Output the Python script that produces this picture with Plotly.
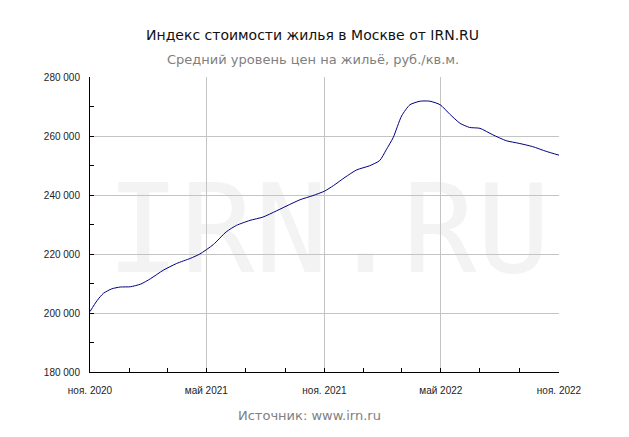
import plotly.graph_objects as go

dates = ["2020-11-01", "2020-11-12", "2020-11-22", "2020-12-05", "2020-12-18",
         "2021-01-03", "2021-01-19", "2021-02-03", "2021-02-23", "2021-03-16",
         "2021-04-06", "2021-04-21", "2021-05-12", "2021-06-01", "2021-06-17",
         "2021-07-08", "2021-07-28", "2021-08-18", "2021-09-08", "2021-09-24",
         "2021-10-14", "2021-11-01", "2021-11-15", "2021-12-03", "2021-12-21",
         "2022-01-10", "2022-01-26", "2022-02-05", "2022-02-16", "2022-03-01",
         "2022-03-14", "2022-03-30", "2022-04-14", "2022-04-30", "2022-05-15",
         "2022-05-31", "2022-06-15", "2022-07-01", "2022-07-21", "2022-08-11",
         "2022-08-31", "2022-09-21", "2022-10-12", "2022-11-01"]
prices = [200500, 204200, 206700, 208200, 208800,
          208900, 209800, 211600, 214500, 216800,
          218500, 220000, 223200, 227500, 229700,
          231400, 232500, 234600, 236800, 238400,
          239800, 241300, 243200, 246000, 248500,
          249900, 251700, 255300, 259500, 266800,
          270600, 271800, 271800, 270600, 267400,
          264300, 262900, 262600, 260400, 258400,
          257500, 256400, 254800, 253500]

x_tick_vals = ["2020-11-01", "2021-05-01", "2021-11-01", "2022-05-01", "2022-11-01"]
x_tick_text = ["ноя. 2020", "май 2021", "ноя. 2021", "май 2022", "ноя. 2022"]
y_tick_vals = [180000, 200000, 220000, 240000, 260000, 280000]
y_tick_text = ["180 000", "200 000", "220 000", "240 000", "260 000", "280 000"]

title_text = "Индекс стоимости жилья в Москве от IRN.RU"
subtitle_text = "Средний уровень цен на жильё, руб./кв.м."
source_text = "Источник: www.irn.ru"
watermark_text = "IRN.RU"

W, H = 629, 437
ML, MR, MT, MB = 90, 70, 77, 65
plot_w = W - ML - MR
plot_h = H - MT - MB


def px_x(xpix):
    return (xpix - ML) / plot_w


def px_y(ypix):
    return (H - MB - ypix) / plot_h


fig = go.Figure()
fig.add_trace(go.Scatter(
    x=dates, y=prices, mode="lines",
    line=dict(color="#000080", width=1, shape="spline", smoothing=0.6),
    hoverinfo="x+y", showlegend=False,
))

fig.update_layout(
    width=W, height=H,
    margin=dict(l=ML, r=MR, t=MT, b=MB),
    paper_bgcolor="white", plot_bgcolor="white",
    font=dict(family="Liberation Sans, Arial, sans-serif", size=10, color="#222222"),
    showlegend=False,
    xaxis=dict(
        range=["2020-11-01", "2022-11-01"],
        tickmode="array", tickvals=x_tick_vals, ticktext=x_tick_text,
        showgrid=True, gridcolor="#c4c4c4", gridwidth=1,
        showline=True, linecolor="black", linewidth=1,
        ticks="inside", ticklen=4, tickcolor="black",
        ticklabelstandoff=9,
        minor=dict(tick0="2020-11-01", dtick="M2", ticks="inside", ticklen=4,
                   tickcolor="black", showgrid=False),
        zeroline=False, mirror=False,
    ),
    yaxis=dict(
        range=[180000, 280000],
        tickmode="array", tickvals=y_tick_vals, ticktext=y_tick_text,
        showgrid=True, gridcolor="#c4c4c4", gridwidth=1,
        showline=True, linecolor="black", linewidth=1,
        ticks="inside", ticklen=4, tickcolor="black",
        ticklabelstandoff=7,
        minor=dict(tick0=180000, dtick=10000, ticks="inside", ticklen=4,
                   tickcolor="black", showgrid=False),
        zeroline=False, mirror=False,
    ),
    shapes=[
        dict(type="rect", xref="paper", yref="paper", layer="below",
             x0=px_x(128.5), x1=px_x(528.5), y0=px_y(280), y1=px_y(160),
             line=dict(width=0), fillcolor="rgba(0,0,0,0)",
             label=dict(text=watermark_text, textposition="middle center",
                        font=dict(family="DejaVu Sans Mono", size=123, color="#f3f3f3"))),
    ],
    annotations=[
        dict(text=title_text, xref="paper", yref="paper", x=px_x(312), y=px_y(35),
             showarrow=False, xanchor="center", yanchor="middle",
             font=dict(family="DejaVu Sans", size=14, color="#111111")),
        dict(text=subtitle_text, xref="paper", yref="paper", x=px_x(313), y=px_y(59),
             showarrow=False, xanchor="center", yanchor="middle",
             font=dict(family="DejaVu Sans", size=13, color="#808080")),
        dict(text=source_text, xref="paper", yref="paper", x=px_x(309), y=px_y(415),
             showarrow=False, xanchor="center", yanchor="middle",
             font=dict(family="DejaVu Sans", size=13, color="#808080")),
    ],
)

fig.write_html("out.html")
